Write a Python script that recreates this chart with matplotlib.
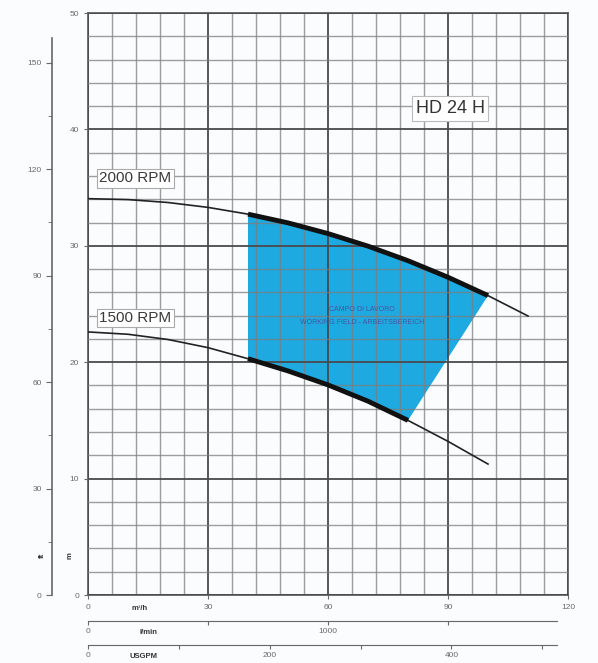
import matplotlib.pyplot as plt
import numpy as np

plt.rcParams['font.family'] = ['Liberation Sans', 'DejaVu Sans']

# pump curves (Q in m3/h, H in m)
q_2000 = [0, 10, 20, 30, 40, 50, 60, 70, 80, 90, 100, 110]
h_2000 = [34.05, 33.97, 33.72, 33.3, 32.72, 31.97, 31.05, 29.97, 28.72, 27.3, 25.72, 23.97]
q_1500 = [0, 10, 20, 30, 40, 50, 60, 70, 80, 90, 100]
h_1500 = [22.6, 22.4, 21.95, 21.25, 20.3, 19.25, 18.05, 16.65, 15.0, 13.2, 11.25]

# working field limits
field_q_min = 40
field_q_top_max = 100
field_q_bot_max = 80

x_ticks = [0, 30, 60, 90, 120]
y_ticks = [0, 10, 20, 30, 40, 50]
ft_ticks = [0, 30, 60, 90, 120, 150]
lmin_ticks = [0, 500, 1000, 1500]
lmin_labels = ['0', '', '1000', '']
gpm_ticks = [0, 100, 200, 300, 400, 500]
gpm_labels = ['0', '', '200', '', '400', '']

grey = '#6a6a6a'
blue = '#1eaae1'

fig = plt.figure(figsize=(5.98, 6.63), dpi=100)
fig.patch.set_facecolor('#fbfcfd')
ax = fig.add_axes([88/598, 68/663, 480/598, 582/663])
ax.set_facecolor('#fbfcfd')
ax.set_xlim(0, 120)
ax.set_ylim(0, 50)

# grid
ax.set_xticks(x_ticks)
ax.set_xticks(np.arange(0, 121, 6), minor=True)
ax.set_yticks(y_ticks)
ax.set_yticks(np.arange(0, 51, 2), minor=True)
ax.set_axisbelow(False)
ax.grid(which='minor', color='#7d7d7d', lw=1.0, alpha=0.75)
ax.grid(which='major', color='#4a4a4a', lw=1.3)
ax.tick_params(which='minor', length=0)
ax.tick_params(which='major', length=3, labelsize=6, labelcolor=grey, color=grey)
for s in ax.spines.values():
    s.set_color('#555555')
    s.set_linewidth(1.2)

# working field
q2 = np.array(q_2000)
h2 = np.array(h_2000)
q1 = np.array(q_1500)
h1 = np.array(h_1500)
top = (q2 >= field_q_min) & (q2 <= field_q_top_max)
bot = (q1 >= field_q_min) & (q1 <= field_q_bot_max)
px = list(q2[top]) + list(q1[bot][::-1])
py = list(h2[top]) + list(h1[bot][::-1])
ax.fill(px, py, color=blue, lw=0, zorder=1)
ax.plot(q2[top], h2[top], color='#111111', lw=3.5, zorder=4, solid_capstyle='butt')
ax.plot(q1[bot], h1[bot], color='#111111', lw=3.5, zorder=4, solid_capstyle='butt')

ax.plot(q_2000, h_2000, color='#222222', lw=1.2, zorder=3)
ax.plot(q_1500, h_1500, color='#222222', lw=1.2, zorder=3)

ax.text(68.5, 24.5, 'CAMPO DI LAVORO', fontsize=5, color='#4656a0', ha='center', va='center', zorder=5)
ax.text(68.5, 23.4, 'WORKING FIELD - ARBEITSBEREICH', fontsize=5, color='#4656a0', ha='center', va='center', zorder=5)

box = dict(boxstyle='square,pad=0.15', fc='white', ec='#aaaaaa', lw=0.8)
ax.text(11.8, 35.8, '2000 RPM', fontsize=11, color='#3a3a3a', ha='center', va='center', bbox=box, zorder=6)
ax.text(11.8, 23.8, '1500 RPM', fontsize=11, color='#3a3a3a', ha='center', va='center', bbox=box, zorder=6)
ax.text(90.5, 41.8, 'HD 24 H', fontsize=13, color='#333333', ha='center', va='center',
        bbox=dict(boxstyle='square,pad=0.2', fc='white', ec='#bbbbbb', lw=0.8), zorder=6)

# outer feet axis
m2ft = lambda m: m * 3.2808
ft2m = lambda f: f / 3.2808
ay = ax.secondary_yaxis(-0.075, functions=(m2ft, ft2m))
ay.set_yticks(ft_ticks)
ay.set_yticks([15, 45, 75, 105, 135], minor=True)
ay.tick_params(which='major', length=4, labelsize=6, labelcolor=grey, color=grey)
ay.tick_params(which='minor', length=3, color=grey)
ay.spines['left'].set_bounds(0, 157)
ay.spines['left'].set_color('#666666')
ay.spines['left'].set_linewidth(1.2)

ax.text(-4.5, 3.4, 'm', fontsize=5.5, fontweight='bold', color='#333333', ha='center', va='center', rotation=90)
ax.text(-11.5, 3.4, 'ft', fontsize=5.5, fontweight='bold', color='#333333', ha='center', va='center', rotation=90)

# flow unit axes below
lmin = ax.secondary_xaxis(-26/582, functions=(lambda q: q * 1000 / 60, lambda l: l * 60 / 1000))
lmin.set_xticks(lmin_ticks)
lmin.set_xticklabels(lmin_labels)
lmin.tick_params(length=3, labelsize=6, labelcolor=grey, color=grey, pad=2)
lmin.spines['bottom'].set_bounds(0, 1955)
lmin.spines['bottom'].set_color('#666666')

gpm = ax.secondary_xaxis(-50/582, functions=(lambda q: q * 4.4029, lambda g: g / 4.4029))
gpm.set_xticks(gpm_ticks)
gpm.set_xticklabels(gpm_labels)
gpm.tick_params(length=3, labelsize=6, labelcolor=grey, color=grey, pad=2)
gpm.spines['bottom'].set_bounds(0, 516)
gpm.spines['bottom'].set_color('#666666')

tr = ax.get_xaxis_transform()
ax.text(13, -13/582, 'm\u00b3/h', transform=tr, fontsize=5.5, fontweight='bold', color='#333333', ha='center', va='center')
ax.text(15, -37/582, 'l/min', transform=tr, fontsize=5.5, fontweight='bold', color='#333333', ha='center', va='center')
ax.text(14, -62/582, 'USGPM', transform=tr, fontsize=5.5, fontweight='bold', color='#333333', ha='center', va='center')

fig.savefig('out.png', dpi=100, facecolor=fig.get_facecolor())
